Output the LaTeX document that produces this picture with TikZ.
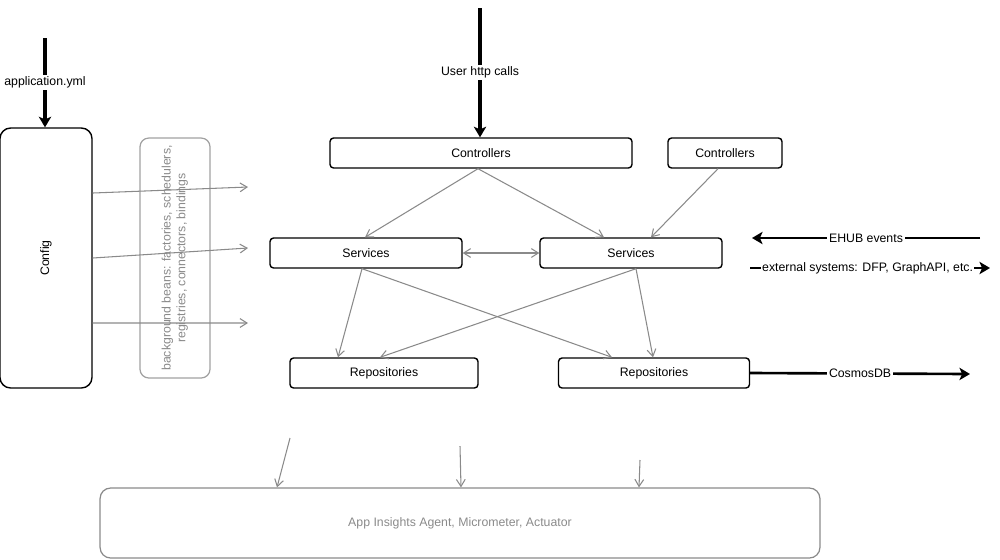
\documentclass[tikz,border=0pt]{standalone}
\usepackage{fontspec}
\setmainfont{Liberation Sans}
\usepackage{graphicx}
\usetikzlibrary{arrows.meta}

\definecolor{softgray}{HTML}{8A8A8A}

\begin{document}
\begin{tikzpicture}[x=0.02cm, y=-0.02cm,
  font=\fontsize{7}{8.5}\selectfont,
  box/.style={draw, line width=0.8pt, rounded corners=2pt, inner sep=0pt, minimum height=0.6cm},
  greybox/.style={draw=softgray!80, line width=0.7pt, rounded corners=5pt, inner sep=0pt, text=softgray},
  thin arrow/.style={draw=softgray, line width=0.6pt, -{Straight Barb[length=4pt, width=5pt]}},
  thick arrow/.style={line width=1.8pt, -{Stealth[length=6pt, width=7pt, inset=1.5pt]}},
  lbl/.style={fill=white, inner sep=1pt}]
\useasboundingbox (0,0) rectangle (1000,559);

% left column
\node[box, rounded corners=6pt, minimum width=1.84cm, minimum height=5.2cm] (config) at (46,258) {\rotatebox{90}{Config}};
\node[greybox, minimum width=1.4cm, minimum height=4.8cm] (beans) at (175,258)
  {\rotatebox{90}{\begin{tabular}{@{}c@{}}background beans: factories, schedulers,\\registries, connectors, bindings\end{tabular}}};
\coordinate (yml) at (45,38);
\draw[thick arrow] (yml) -- node[lbl] (ymltext) {application.yml} (config.north -| yml);

\coordinate (b1) at (248,187);
\coordinate (b2) at (248,248);
\coordinate (b3) at (248,323);
\draw[thin arrow] ([yshift=1.3cm]config.east) -- (b1);
\draw[thin arrow] (config.east) -- (b2);
\draw[thin arrow] ([yshift=-1.3cm]config.east) -- (b3);

% layers
\node[box, minimum width=6.04cm] (ctrlA) at (481,153) {Controllers};
\node[box, minimum width=2.28cm] (ctrlB) at (725,153) {Controllers};
\node[box, minimum width=3.84cm] (svcA) at (366,253) {Services};
\node[box, minimum width=3.64cm] (svcB) at (631,253) {Services};
\node[box, minimum width=3.76cm] (repoA) at (384,373) {Repositories};
\node[box, minimum width=3.82cm] (repoB) at (654,373) {Repositories};

\coordinate (user) at (480,8);
\draw[thick arrow] (user) -- node[lbl] (usertext) {User http calls} (ctrlA.north -| user);

\draw[thin arrow] ([xshift=-0.06cm]ctrlA.south) -- ([xshift=-0.02cm]svcA.north);
\draw[thin arrow] ([xshift=-0.06cm]ctrlA.south) -- ([xshift=-0.54cm]svcB.north);
\draw[thin arrow] ([xshift=-0.14cm]ctrlB.south) -- ([xshift=0.4cm]svcB.north);
\draw[thin arrow, {Straight Barb[length=4pt, width=5pt]}-{Straight Barb[length=4pt, width=5pt]}] (svcA.east) -- (svcB.west);

\draw[thin arrow] ([xshift=-0.08cm]svcA.south) -- ([xshift=-0.92cm]repoA.north);
\draw[thin arrow] ([xshift=-0.08cm]svcA.south) -- ([xshift=-0.84cm]repoB.north);
\draw[thin arrow] ([xshift=0.1cm]svcB.south) -- ([xshift=-0.08cm]repoA.north);
\draw[thin arrow] ([xshift=0.1cm]svcB.south) -- ([xshift=-0.02cm]repoB.north);

% external systems
\coordinate (ehub) at (980,238);
\coordinate (ehubend) at (752,238);
\draw[thick arrow, line width=1.5pt] (ehub) -- node[lbl] (ehubtext) {EHUB events} (ehubend);
\coordinate (ext) at (750,268);
\coordinate (extend) at (990,268);
\draw[thick arrow, line width=1.5pt] (ext) -- node[lbl, inner sep=0.5pt, pos=0.49] (exttext) {external systems: DFP, GraphAPI, etc.} (extend);
\coordinate (cosmos) at (970,374);
\draw[thick arrow, line width=1.5pt] (repoB.east) -- node[lbl] (cosmostext) {CosmosDB} (cosmos);

% monitoring
\node[greybox, draw=softgray, rounded corners=6pt, minimum width=14.4cm, minimum height=1.4cm] (monitor) at (460,523) {App Insights Agent, Micrometer, Actuator};
\coordinate (m1) at (290,438);
\coordinate (m2) at (460,446);
\coordinate (m3) at (640,460);
\draw[thin arrow] (m1) -- (monitor.north -| 277,0);
\draw[thin arrow] (m2) -- (monitor.north -| 461,0);
\draw[thin arrow] (m3) -- (monitor.north -| 639,0);
\end{tikzpicture}
\end{document}
